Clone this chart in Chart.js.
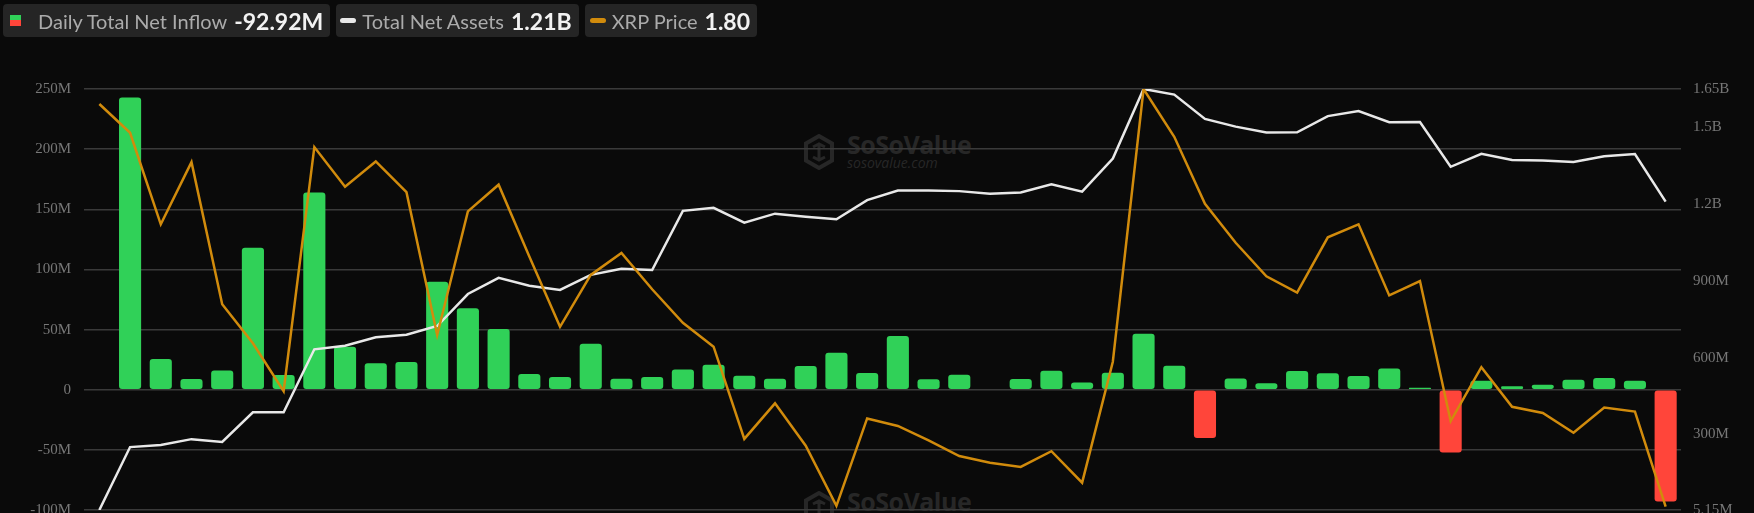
<!DOCTYPE html>
<html lang="en">
<head>
    <meta charset="UTF-8">
    <title>XRP ETF Daily Total Net Inflow</title>
    <script src="https://cdn.jsdelivr.net/npm/chart.js"></script>
    <style>
        body {
            margin: 0;
            width: 1754px;
            height: 513px;
            overflow: hidden;
            background-color: #0a0a0a;
            font-family: 'Lato', 'Noto Sans', sans-serif;
            position: relative;
        }
        .legend {
            position: absolute;
            top: 4px;
            left: 3px;
            display: flex;
            gap: 6px;
            z-index: 3;
        }
        .legend-item {
            display: flex;
            align-items: center;
            height: 33px;
            background-color: #252525;
            border-radius: 4px;
            padding: 0 7px 0 5px;
            white-space: nowrap;
        }
        .legend-label {
            color: #ababab;
            font-size: 20px;
            margin-right: 7px;
        }
        .legend-value {
            color: #f2f2f2;
            font-size: 23px;
            font-weight: bold;
        }
        .icon-split {
            width: 11px;
            height: 11px;
            margin: 0 17px 0 1px;
            background: linear-gradient(#30d158 50%, #ff453a 50%);
        }
        .icon-pill {
            width: 16px;
            height: 5px;
            border-radius: 3px;
            margin-right: 6px;
        }
        .watermark {
            position: absolute;
            left: 803px;
            display: flex;
            align-items: center;
            color: #272727;
            z-index: 0;
        }
        .watermark .name {
            font-family: 'Open Sans', sans-serif;
            font-weight: bold;
            font-size: 25px;
            line-height: 22px;
            letter-spacing: -0.5px;
        }
        .watermark .site {
            font-family: 'Open Sans', sans-serif;
            font-style: italic;
            font-size: 14px;
            line-height: 15px;
        }
        #chartBox {
            position: absolute;
            top: 0;
            left: 0;
            width: 1754px;
            height: 545px;
            z-index: 1;
        }
    </style>
</head>
<body>
    <div class="legend">
        <div class="legend-item" style="padding-left:6px">
            <div class="icon-split"></div>
            <span class="legend-label">Daily Total Net Inflow</span>
            <span class="legend-value" id="v-inflow"></span>
        </div>
        <div class="legend-item" style="padding-left:4px">
            <div class="icon-pill" style="background:#e8e8e8"></div>
            <span class="legend-label">Total Net Assets</span>
            <span class="legend-value" id="v-assets"></span>
        </div>
        <div class="legend-item">
            <div class="icon-pill" style="background:#d18b0c"></div>
            <span class="legend-label">XRP Price</span>
            <span class="legend-value" id="v-price"></span>
        </div>
    </div>

    <!-- watermarks -->
    <div class="watermark" style="top:133px">
        <svg width="32" height="36" viewBox="0 0 32 36" style="margin-right:12px">
            <path d="M16 2 L29 9.5 L29 26.5 L16 34 L3 26.5 L3 9.5 Z" fill="none" stroke="#272727" stroke-width="4"/>
            <path d="M10 13 L16 10 L22 13 M10 23 L16 26 L22 23 M16 10 L16 26" fill="none" stroke="#272727" stroke-width="3"/>
        </svg>
        <div><div class="name">SoSoValue</div><div class="site">sosovalue.com</div></div>
    </div>
    <div class="watermark" style="top:490px">
        <svg width="32" height="36" viewBox="0 0 32 36" style="margin-right:12px">
            <path d="M16 2 L29 9.5 L29 26.5 L16 34 L3 26.5 L3 9.5 Z" fill="none" stroke="#272727" stroke-width="4"/>
            <path d="M10 13 L16 10 L22 13 M10 23 L16 26 L22 23 M16 10 L16 26" fill="none" stroke="#272727" stroke-width="3"/>
        </svg>
        <div><div class="name">SoSoValue</div><div class="site">sosovalue.com</div></div>
    </div>

    <div id="chartBox">
        <canvas id="etfChart"></canvas>
    </div>

    <script>
        // trading days
        const dates = [
            '2025-11-13', '2025-11-14', '2025-11-17', '2025-11-18', '2025-11-19', '2025-11-20', '2025-11-21',
            '2025-11-24', '2025-11-25', '2025-11-26', '2025-11-28', '2025-12-01', '2025-12-02', '2025-12-03',
            '2025-12-04', '2025-12-05', '2025-12-08', '2025-12-09', '2025-12-10', '2025-12-11', '2025-12-12',
            '2025-12-15', '2025-12-16', '2025-12-17', '2025-12-18', '2025-12-19', '2025-12-22', '2025-12-23',
            '2025-12-24', '2025-12-26', '2025-12-29', '2025-12-30', '2025-12-31', '2026-01-02', '2026-01-05',
            '2026-01-06', '2026-01-07', '2026-01-08', '2026-01-09', '2026-01-12', '2026-01-13', '2026-01-14',
            '2026-01-15', '2026-01-16', '2026-01-20', '2026-01-21', '2026-01-22', '2026-01-23', '2026-01-26',
            '2026-01-27', '2026-01-28', '2026-01-29'
        ];

        // daily total net inflow (M USD)
        const netInflow = [
            null, 243, 25.5, 8.9, 16, 118, 12.2, 164, 35.7, 22.1, 23, 89.7, 67.8, 50.4,
            13, 10.5, 38.2, 9.1, 10.5, 16.9, 20.8, 11.6, 9.1, 19.7, 30.7, 13.8, 44.6, 8.6,
            12.5, null, 8.9, 15.8, 6.1, 14.1, 46.5, 19.9, -40.1, 9.3, 5.3, 15.5, 13.6, 11.3,
            17.7, 1.6, -52.3, 7.5, 2.8, 4.2, 8.3, 9.7, 7.5, -92.92
        ];

        // total net assets (M USD)
        const netAssets = [
            5.15, 251, 259, 282, 271, 387, 387, 633, 647, 680, 690, 724, 849, 912,
            881, 865, 924, 948, 943, 1174, 1186, 1128, 1163, 1151, 1141, 1216, 1253, 1253,
            1251, 1241, 1246, 1278, 1249, 1378, 1650, 1628, 1533, 1503, 1480, 1481, 1544, 1564,
            1520, 1521, 1346, 1397, 1373, 1371, 1365, 1387, 1396, 1210
        ];

        // XRP price (USD)
        const xrpPrice = [
            2.389, 2.347, 2.213, 2.304, 2.096, 2.039, 1.969, 2.326, 2.268, 2.305, 2.260, 2.051, 2.232, 2.271,
            2.166, 2.063, 2.139, 2.171, 2.118, 2.069, 2.034, 1.899, 1.951, 1.889, 1.801, 1.929, 1.918, 1.897,
            1.874, 1.864, 1.858, 1.881, 1.835, 2.012, 2.411, 2.341, 2.243, 2.186, 2.137, 2.113, 2.194, 2.213,
            2.109, 2.130, 1.925, 2.004, 1.946, 1.937, 1.908, 1.945, 1.939, 1.80
        ];

        // axis ticks
        const inflowTicks = [-100, -50, 0, 50, 100, 150, 200, 250];
        const assetTicks = [5.15, 300, 600, 900, 1200, 1500, 1650];

        const GREEN = '#30d158';
        const RED = '#ff453a';
        const WHITE = '#e8e8e8';
        const ORANGE = '#d18b0c';

        function fmtM(v) {
            if (v === 0) return '0';
            if (Math.abs(v) >= 1000) return parseFloat((v / 1000).toFixed(2)) + 'B';
            return parseFloat(v.toFixed(2)) + 'M';
        }

        // legend values = latest day
        const last = dates.length - 1;
        document.getElementById('v-inflow').textContent = netInflow[last].toFixed(2) + 'M';
        document.getElementById('v-assets').textContent = (netAssets[last] / 1000).toFixed(2) + 'B';
        document.getElementById('v-price').textContent = xrpPrice[last].toFixed(2);

        const tickFont = { family: "'Liberation Serif', serif", size: 15 };

        const ctx = document.getElementById('etfChart').getContext('2d');
        new Chart(ctx, {
            type: 'bar',
            data: {
                labels: dates,
                datasets: [
                    {
                        type: 'line',
                        label: 'XRP Price',
                        data: xrpPrice,
                        yAxisID: 'yPrice',
                        borderColor: ORANGE,
                        borderWidth: 2.5,
                        pointRadius: 0,
                        tension: 0,
                        order: 1
                    },
                    {
                        type: 'line',
                        label: 'Total Net Assets',
                        data: netAssets,
                        yAxisID: 'yAssets',
                        borderColor: WHITE,
                        borderWidth: 2.5,
                        pointRadius: 0,
                        tension: 0,
                        order: 2
                    },
                    {
                        type: 'bar',
                        label: 'Daily Total Net Inflow',
                        data: netInflow,
                        yAxisID: 'yInflow',
                        backgroundColor: c => (c.raw < 0 ? RED : GREEN),
                        borderRadius: 3,
                        borderSkipped: false,
                        categoryPercentage: 0.72,
                        barPercentage: 1.0,
                        order: 3
                    }
                ]
            },
            options: {
                responsive: true,
                maintainAspectRatio: false,
                animation: false,
                layout: {
                    padding: { top: 89, bottom: 35, left: 0, right: 0 }
                },
                plugins: {
                    legend: { display: false },
                    tooltip: { enabled: false }
                },
                scales: {
                    x: {
                        display: false,
                        offset: true
                    },
                    yInflow: {
                        position: 'left',
                        min: -100,
                        max: 250,
                        afterBuildTicks: s => { s.ticks = inflowTicks.map(v => ({ value: v })); },
                        afterFit: s => { s.width = 84; },
                        border: { display: false },
                        grid: {
                            color: '#3a3a3a',
                            lineWidth: 1.5,
                            drawTicks: false
                        },
                        ticks: {
                            color: '#777777',
                            font: tickFont,
                            padding: 13,
                            callback: v => fmtM(v)
                        }
                    },
                    yAssets: {
                        position: 'right',
                        min: 5.15,
                        max: 1650,
                        afterBuildTicks: s => { s.ticks = assetTicks.map(v => ({ value: v })); },
                        afterFit: s => { s.width = 73; },
                        border: { display: false },
                        grid: { display: false, drawTicks: false },
                        ticks: {
                            color: '#777777',
                            font: tickFont,
                            padding: 12,
                            callback: v => fmtM(v)
                        }
                    },
                    yPrice: {
                        display: false,
                        min: 1.795,
                        max: 2.411
                    }
                }
            }
        });
    </script>
</body>
</html>
